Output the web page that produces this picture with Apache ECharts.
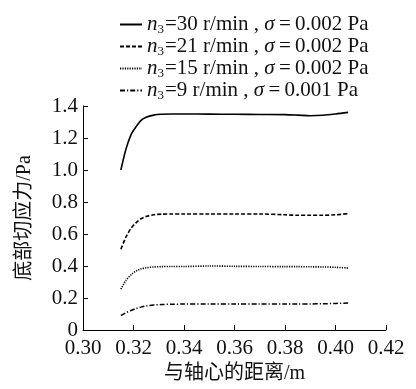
<!DOCTYPE html>
<html><head><meta charset="utf-8">
<script src="https://cdn.jsdelivr.net/npm/echarts@6/dist/echarts.min.js"></script>
<style>html,body{margin:0;padding:0;background:#fff}#c{width:416px;height:389px}</style>
</head><body><div id="c"></div>
<script>
// Data
const xs = [0.315, 0.317, 0.319, 0.321, 0.323, 0.325, 0.328, 0.331, 0.335, 0.34, 0.35, 0.36, 0.37, 0.38, 0.385, 0.39, 0.395, 0.40, 0.405];
const y30 = [1.00, 1.13, 1.22, 1.27, 1.31, 1.33, 1.343, 1.348, 1.35, 1.35, 1.349, 1.348, 1.347, 1.346, 1.343, 1.339, 1.342, 1.35, 1.36];
const y21 = [0.505, 0.58, 0.635, 0.67, 0.695, 0.71, 0.72, 0.724, 0.725, 0.725, 0.725, 0.725, 0.725, 0.72, 0.717, 0.717, 0.717, 0.72, 0.727];
const y15 = [0.255, 0.31, 0.345, 0.368, 0.382, 0.389, 0.394, 0.396, 0.397, 0.397, 0.40, 0.398, 0.397, 0.396, 0.396, 0.395, 0.394, 0.392, 0.387];
const y9 = [0.09, 0.108, 0.122, 0.134, 0.143, 0.15, 0.156, 0.159, 0.161, 0.162, 0.163, 0.163, 0.163, 0.163, 0.163, 0.163, 0.164, 0.166, 0.169];
const speeds = ['30', '21', '15', '9'];
const sigmas = ['0.002', '0.002', '0.002', '0.001'];
const xTicks = {min: 0.30, max: 0.42, step: 0.02};
const yTicks = {min: 0, max: 1.4, step: 0.2};
const xName = '与轴心的距离/m';
const yName = '底部切应力/Pa';

const serif = '"Liberation Serif", "Times New Roman", "Noto Sans CJK SC", serif';
const names = speeds.map((s, i) => 'n3=' + s + ' r/min , σ=' + sigmas[i] + ' Pa');
const richMap = {};
speeds.forEach((s, i) => {
  richMap[names[i]] = '{i|n}{s|3}{t|=' + s + ' r/min , }{i|σ}{t|\u2009=\u2009' + sigmas[i] + ' Pa}';
});
const allY = [y30, y21, y15, y9];
const lineTypes = ['solid', [4, 2], [1.2, 1.2], [5, 2, 1.2, 2]];
const widths = [1.6, 1.6, 1.6, 1.5];

const chart = echarts.init(document.getElementById('c'), null, {renderer: 'canvas'});
chart.setOption({
  animation: false,
  backgroundColor: '#fff',
  grid: {left: 83, right: 30, top: 106, bottom: 56, containLabel: false},
  legend: {
    orient: 'vertical', left: 114, top: 9, itemGap: 0, itemWidth: 22, itemHeight: 12,
    data: names,
    formatter: n => richMap[n],
    itemStyle: {opacity: 0},
    textStyle: {
      fontFamily: serif, fontSize: 21, color: '#111',
      rich: {
        i: {fontFamily: serif, fontStyle: 'italic', fontSize: 21, color: '#111'},
        s: {fontFamily: serif, fontSize: 13, color: '#111', padding: [10, 1, 0, 0]},
        t: {fontFamily: serif, fontSize: 21, color: '#111'}
      }
    }
  },
  xAxis: {
    type: 'value', min: xTicks.min, max: xTicks.max, interval: xTicks.step,
    name: xName, nameLocation: 'middle', nameGap: 34,
    nameTextStyle: {fontFamily: serif, fontSize: 20, color: '#111'},
    axisLine: {show: true, onZero: false, lineStyle: {color: '#000', width: 1}},
    axisTick: {show: true, inside: true, length: 5, lineStyle: {color: '#000'}},
    splitLine: {show: false},
    axisLabel: {fontFamily: serif, fontSize: 21, color: '#111', margin: 8, formatter: v => v.toFixed(2)}
  },
  yAxis: {
    type: 'value', min: yTicks.min, max: yTicks.max, interval: yTicks.step,
    name: yName, nameLocation: 'middle', nameGap: 48, nameRotate: 90,
    nameTextStyle: {fontFamily: serif, fontSize: 20, color: '#111'},
    axisLine: {show: true, lineStyle: {color: '#000', width: 1}},
    axisTick: {show: true, inside: true, length: 5, lineStyle: {color: '#000'}},
    splitLine: {show: false},
    axisLabel: {fontFamily: serif, fontSize: 21, color: '#111', margin: 5, formatter: v => v === 0 ? '0' : v.toFixed(1)}
  },
  series: allY.map((ys, i) => ({
    name: names[i], type: 'line', smooth: 0.3, symbol: 'none', showSymbol: false,
    data: xs.map((x, k) => [x, ys[k]]),
    lineStyle: {color: '#000', width: widths[i], type: lineTypes[i]},
    itemStyle: {color: '#000'}
  }))
});
</script></body></html>
